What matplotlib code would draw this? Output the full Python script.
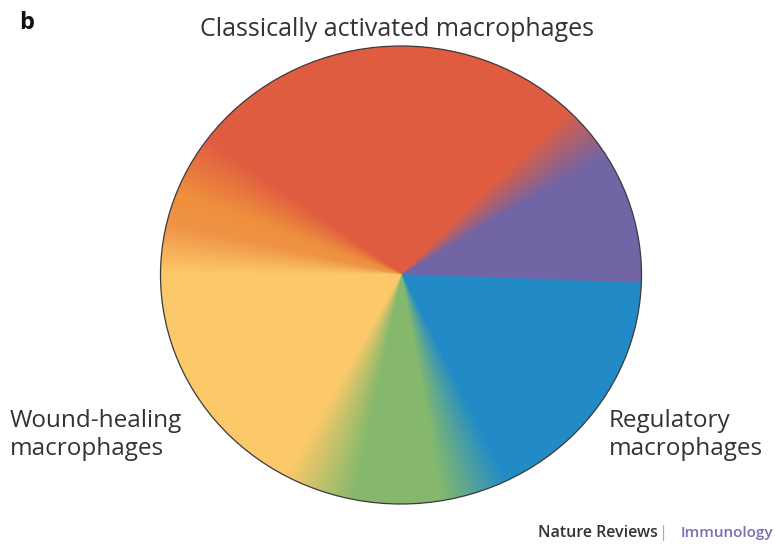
import numpy as np
import matplotlib
matplotlib.use("Agg")
import matplotlib.pyplot as plt
from matplotlib.patches import Ellipse

# ---- data: colour stops of the wheel (angle in degrees, CCW from east) ----
stop_angles = [-2, 30, 45, 145, 160, 168, 180, 240, 258, 280, 297, 358]
stop_colors = ["#7165A6", "#7165A6", "#E05D40", "#E05D40", "#EE8F3D", "#EF9446",
               "#FCC96A", "#FCC96A", "#85B96C", "#85B96C", "#228BC8", "#228BC8"]

title_text = "Classically activated macrophages"
left_label = "Wound-healing\nmacrophages"
right_label = "Regulatory\nmacrophages"
panel_label = "b"
footer_left = "Nature Reviews"
footer_right = "Immunology"

W, H = 775, 547
fig = plt.figure(figsize=(W / 100, H / 100), dpi=100)
ax = fig.add_axes([0, 0, 1, 1])
ax.set_xlim(0, W)
ax.set_ylim(H, 0)
ax.axis("off")

cx, cy = 401, 275
rx, ry = 240.5, 229

# angular gradient
xs = np.arange(cx - rx - 2, cx + rx + 2, 0.5)
ys = np.arange(cy - ry - 2, cy + ry + 2, 0.5)
X, Y = np.meshgrid(xs, ys)
ang = np.degrees(np.arctan2(-(Y - cy), X - cx))
ang = (ang - stop_angles[0]) % 360 + stop_angles[0]
rgb = np.array([matplotlib.colors.to_rgb(c) for c in stop_colors])
img = np.zeros(X.shape + (3,))
for k in range(3):
    img[..., k] = np.interp(ang, stop_angles, rgb[:, k])

im = ax.imshow(img, extent=(xs[0], xs[-1], ys[-1], ys[0]), origin="upper",
               interpolation="bilinear", zorder=1)
clip = Ellipse((cx, cy), 2 * rx, 2 * ry, transform=ax.transData,
               facecolor="none", edgecolor="none")
ax.add_patch(clip)
im.set_clip_path(clip)
ax.add_patch(Ellipse((cx, cy), 2 * rx, 2 * ry, facecolor="none",
                     edgecolor="#3a3a3a", lw=0.9, zorder=3))

font = "Open Sans"
tc = "#333333"
fs = 17.5
ax.text(397, 36, title_text, ha="center", va="baseline", fontsize=18,
        family=font, color=tc)
ax.text(10, 409, left_label, ha="left", va="top", fontsize=fs,
        family=font, color=tc, linespacing=1.22)
ax.text(609, 409, right_label, ha="left", va="top", fontsize=fs,
        family=font, color=tc, linespacing=1.22)
ax.text(19, 23, panel_label, ha="left", va="center", fontsize=17,
        family=font, fontweight="bold", color="#111111")

ax.text(773, 533, footer_right, ha="right", va="center", fontsize=11,
        family=font, fontweight="semibold", color="#7a70b0")
ax.text(664, 533, "|", ha="center", va="center", fontsize=12,
        family=font, color="#aaaaaa")
ax.text(658, 533, footer_left, ha="right", va="center", fontsize=11.5,
        family=font, fontweight="semibold", color="#333333")

fig.savefig("out.png", dpi=100)
